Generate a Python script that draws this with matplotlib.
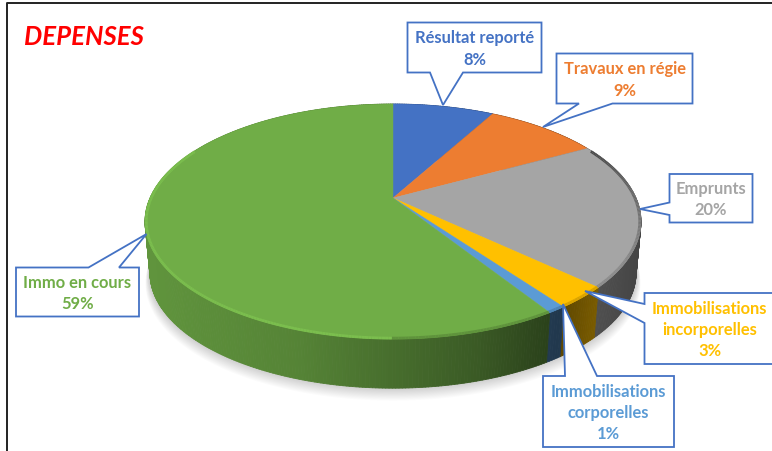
import numpy as np
import matplotlib.pyplot as plt
from matplotlib.collections import PolyCollection, LineCollection
from matplotlib.colors import to_rgb
from matplotlib.patches import Polygon

plt.rcParams["font.family"] = ["Lato", "DejaVu Sans"]

categories = [
    "Résultat reporté",
    "Travaux en régie",
    "Emprunts",
    "Immobilisations\nincorporelles",
    "Immobilisations\ncorporelles",
    "Immo en cours",
]
values = [8, 9, 20, 3, 1, 59]
colors = ["#4472C4", "#ED7D31", "#A5A5A5", "#FFC000", "#5B9BD5", "#70AD47"]

# callout box (x0, y0, x1, y1), the two tail roots and the tip, in pixels
callouts = [
    ((407.5, 23.5, 541.5, 73.5), (430, 73.5), (463, 73.5), (443, 106)),
    ((556.5, 54.5, 692.5, 104.5), (579, 104.5), (612.5, 104.5), (543, 128)),
    ((669.5, 175, 752.5, 223.5), (669.5, 203.5), (669.5, 216), (640, 210)),
    ((644.5, 294, 775, 365), (644.5, 305), (644.5, 324), (585, 292)),
    ((543, 377, 674, 448), (565, 377), (597, 377), (563, 305)),
    ((16, 268.5, 139, 317.5), (88.5, 268.5), (119, 268.5), (146.5, 235)),
]

cx, cy = 393, 199
R, A, K = 243, 112.8, 0.2


def project(theta, r=1.0, dy=0.0, scale=1.0):
    # theta clockwise from 12 o'clock, disc seen in perspective
    x = r * np.sin(theta)
    y = r * np.cos(theta)
    w = 1 + K * y
    return cx + scale * R * x / w, cy - scale * A * y / w + dy


def shade(sx):
    return np.interp(sx, [145, 300, 480, 560, 600, 640], [0.86, 0.76, 0.52, 0.36, 0.48, 0.42])


fig = plt.figure(figsize=(7.72, 4.52), dpi=100)
ax = fig.add_axes([0, 0, 1, 1])
ax.set_xlim(0, 772)
ax.set_ylim(452, 0)
ax.axis("off")

# frame of the screenshot
ax.plot([6.5, 6.5, 772], [452, 3.5, 3.5], color="#222222", lw=1.4, zorder=1)

fractions = np.array(values) / sum(values)
edges = np.concatenate([[0], np.cumsum(fractions)]) * 2 * np.pi

# soft shadow under the disc
t = np.linspace(0, 2 * np.pi, 240)
for i in range(12):
    sx, sy = project(t, dy=52 + 0.9 * i, scale=0.985 + 0.0012 * i)
    ax.fill(sx, sy, color="black", alpha=0.014, lw=0, zorder=2)

# side wall, painted back to front
quads, quad_colors, order = [], [], []
for j, (a0, a1) in enumerate(zip(edges[:-1], edges[1:])):
    base = np.array(to_rgb(colors[j]))
    n = max(3, int((a1 - a0) * 90))
    th = np.linspace(a0, a1, n + 1)
    xt, yt = project(th)
    xb, yb = project(th, dy=52, scale=0.98)
    for k in range(n):
        quads.append([(xt[k], yt[k]), (xt[k + 1], yt[k + 1]), (xb[k + 1], yb[k + 1]), (xb[k], yb[k])])
        quad_colors.append(tuple(base * shade(xt[k])))
        order.append(yb[k])
idx = np.argsort(order)
ax.add_collection(PolyCollection(
    [quads[i] for i in idx],
    facecolors=[quad_colors[i] for i in idx],
    edgecolors=[quad_colors[i] for i in idx],
    linewidths=0.6,
    zorder=3,
))

# top face
for j, (a0, a1) in enumerate(zip(edges[:-1], edges[1:])):
    th = np.linspace(a0, a1, max(4, int((a1 - a0) * 90)))
    xt, yt = project(th)
    pts = np.column_stack([np.r_[cx, xt], np.r_[cy, yt]])
    ax.add_patch(Polygon(pts, closed=True, facecolor=colors[j], edgecolor=colors[j], lw=0.3, zorder=4))

# bevel along the rim
segs, seg_colors = [], []
for j, (a0, a1) in enumerate(zip(edges[:-1], edges[1:])):
    base = np.array(to_rgb(colors[j]))
    th = np.linspace(a0, a1, max(4, int((a1 - a0) * 90)))
    xr, yr = project(th, r=0.995)
    for k in range(len(th) - 1):
        mid = (th[k] + th[k + 1]) / 2
        if np.cos(mid) > 0.45:
            continue
        if np.sin(mid) > 0:
            c = base * np.interp(np.cos(mid), [-0.55, 0.45], [0.85, 0.45])
        else:
            c = np.clip(base * 1.1, 0, 1)
        segs.append([(xr[k], yr[k]), (xr[k + 1], yr[k + 1])])
        seg_colors.append(tuple(c))
ax.add_collection(LineCollection(segs, colors=seg_colors, linewidths=2.0, zorder=5, capstyle="butt"))

# callouts
for j, (box, root0, root1, tip) in enumerate(callouts):
    x0, y0, x1, y1 = box
    if root0[1] == y0:
        pts = [(x0, y0), root0, tip, root1, (x1, y0), (x1, y1), (x0, y1)]
    elif root0[1] == y1:
        pts = [(x0, y0), (x1, y0), (x1, y1), root1, tip, root0, (x0, y1)]
    else:
        pts = [(x0, y0), (x1, y0), (x1, y1), (x0, y1), root1, tip, root0]
    ax.add_patch(Polygon(pts, closed=True, facecolor="white", edgecolor="#4472C4", lw=1.3,
                         joinstyle="miter", zorder=6))
    ax.text((x0 + x1) / 2, (y0 + y1) / 2 + 0.5, f"{categories[j]}\n{values[j]}%",
            color=colors[j], fontsize=11.9, fontweight="bold", ha="center", va="center",
            linespacing=1.4, zorder=7)

ax.text(24, 37, "DEPENSES", color="#FF0000", fontsize=18.5, fontweight="bold", fontstyle="italic",
        ha="left", va="center", zorder=7)

fig.savefig("out.png", dpi=100)
